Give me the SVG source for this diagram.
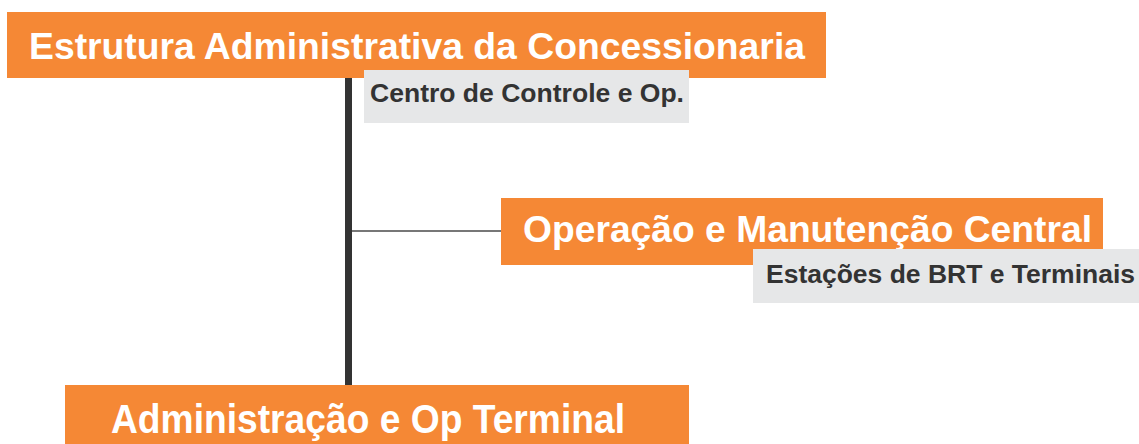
<svg xmlns="http://www.w3.org/2000/svg" width="1139" height="444" viewBox="0 0 1139 444">
  <style>
    .box { fill: #F58835; }
    .tag { fill: #E6E7E8; }
    .title { font-family: "Liberation Sans", Arial, sans-serif; font-weight: bold; fill: #FFFFFF; font-size: 37px; }
    .sub { font-family: "Liberation Sans", Arial, sans-serif; font-weight: bold; fill: #333333; font-size: 26px; }
    .trunk { stroke: #333333; stroke-width: 7; fill: none; }
    .branch { stroke: #777777; stroke-width: 2; fill: none; }
  </style>
  <rect width="1139" height="444" fill="#FFFFFF"/>
  <g id="connectors">
    <line class="trunk" x1="348.5" y1="78" x2="348.5" y2="385"/>
    <line class="branch" x1="352" y1="231" x2="501" y2="231"/>
  </g>
  <g id="node-estrutura">
    <rect class="box" x="7" y="12" width="819" height="66"/>
    <text class="title" x="29" y="59" textLength="776" lengthAdjust="spacingAndGlyphs">Estrutura Administrativa da Concessionaria</text>
  </g>
  <g id="node-centro">
    <rect class="tag" x="364" y="70" width="325" height="53"/>
    <text class="sub" x="370" y="102" textLength="314" lengthAdjust="spacingAndGlyphs">Centro de Controle e Op.</text>
  </g>
  <g id="node-operacao">
    <rect class="box" x="501" y="198" width="602" height="67"/>
    <text class="title" x="523" y="242" textLength="569" lengthAdjust="spacingAndGlyphs">Operação e Manutenção Central</text>
  </g>
  <g id="node-estacoes">
    <rect class="tag" x="753" y="249" width="386" height="54"/>
    <text class="sub" x="766" y="283" textLength="369" lengthAdjust="spacingAndGlyphs">Estações de BRT e Terminais</text>
  </g>
  <g id="node-administracao">
    <rect class="box" x="65" y="385" width="624" height="59"/>
    <text class="title" x="111" y="433" style="font-size:41px" textLength="514" lengthAdjust="spacingAndGlyphs">Administração e Op Terminal</text>
  </g>
</svg>
